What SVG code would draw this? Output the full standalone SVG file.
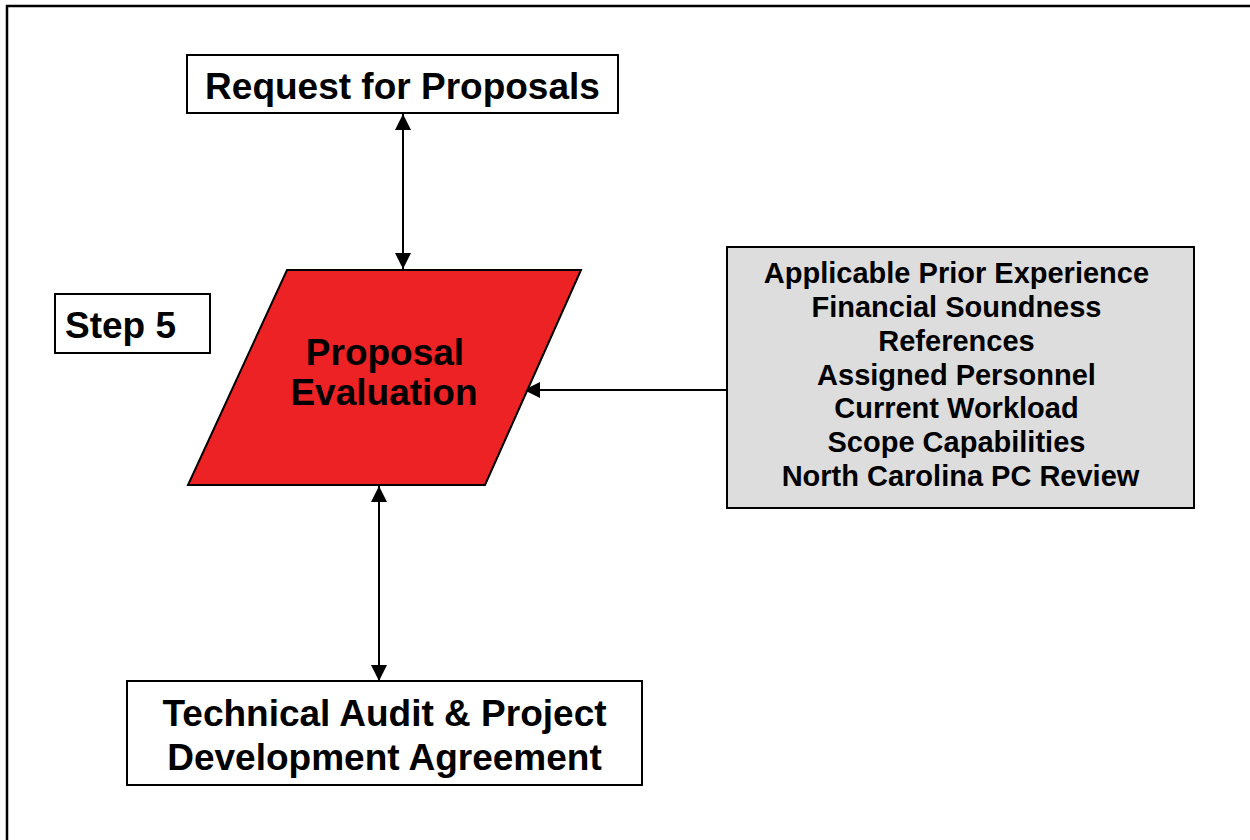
<svg xmlns="http://www.w3.org/2000/svg" width="1250" height="840" viewBox="0 0 1250 840">
<style>
.box{fill:#ffffff;stroke:#000000;stroke-width:2}
.big{font-family:"Liberation Sans",Arial,sans-serif;font-weight:bold;font-size:37px;fill:#000000}
.small{font-family:"Liberation Sans",Arial,sans-serif;font-weight:bold;font-size:29px;fill:#000000}
.conn{stroke:#000000;stroke-width:2;fill:none}
</style>
<defs>
<marker id="ah" viewBox="0 0 16 16" refX="16" refY="8" markerWidth="16" markerHeight="16" markerUnits="userSpaceOnUse" orient="auto-start-reverse">
<path d="M0,0 L16,8 L0,16 Z" fill="#000000"/>
</marker>
</defs>
<rect x="0" y="0" width="1250" height="840" fill="#ffffff"/>
<rect id="frame" x="7" y="6" width="1260" height="860" fill="none" stroke="#000000" stroke-width="2.5"/>
<g id="connectors">
<line class="conn" x1="403" y1="114" x2="403" y2="269" marker-start="url(#ah)" marker-end="url(#ah)"/>
<line class="conn" x1="379" y1="486" x2="379" y2="681" marker-start="url(#ah)" marker-end="url(#ah)"/>
<line class="conn" x1="727" y1="390" x2="524" y2="390" marker-end="url(#ah)"/>
</g>
<g id="request">
<rect class="box" x="187" y="55" width="431" height="58"/>
<text class="big" x="402.5" y="99" text-anchor="middle">Request for Proposals</text>
</g>
<g id="step5">
<rect class="box" x="55" y="294" width="155" height="59"/>
<text class="big" x="65" y="338">Step 5</text>
</g>
<g id="evaluation">
<polygon points="287,270 581,270 485,485 188,485" fill="#ED2224" stroke="#000000" stroke-width="2"/>
<text class="big" x="385" y="365" text-anchor="middle">Proposal</text>
<text class="big" x="384" y="405" text-anchor="middle">Evaluation</text>
</g>
<g id="criteria">
<rect x="727" y="247" width="467" height="261" fill="#DDDDDD" stroke="#000000" stroke-width="2"/>
<text class="small" text-anchor="middle">
<tspan x="960.5" y="283">Applicable Prior Experience</tspan>
<tspan x="960.5" y="317">Financial Soundness</tspan>
<tspan x="960.5" y="351">References</tspan>
<tspan x="960.5" y="385">Assigned Personnel</tspan>
<tspan x="960.5" y="418">Current Workload</tspan>
<tspan x="960.5" y="452">Scope Capabilities</tspan>
<tspan x="960.5" y="486">North Carolina PC Review</tspan>
</text>
</g>
<g id="audit">
<rect class="box" x="127" y="681" width="515" height="104"/>
<text class="big" x="384.5" y="726" text-anchor="middle">Technical Audit &amp; Project</text>
<text class="big" x="384.5" y="770" text-anchor="middle">Development Agreement</text>
</g>
</svg>
